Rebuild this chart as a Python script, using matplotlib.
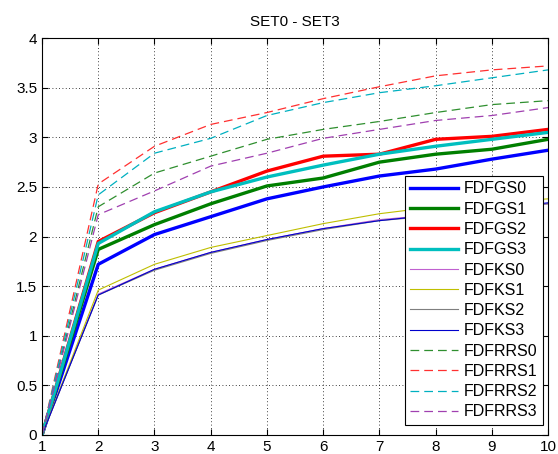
import matplotlib
matplotlib.use("Agg")
import matplotlib.pyplot as plt

plt.rcParams['font.family'] = ['Liberation Sans', 'DejaVu Sans']

x = [1, 2, 3, 4, 5, 6, 7, 8, 9, 10]

labels = ['FDFGS0', 'FDFGS1', 'FDFGS2', 'FDFGS3',
          'FDFKS0', 'FDFKS1', 'FDFKS2', 'FDFKS3',
          'FDFRRS0', 'FDFRRS1', 'FDFRRS2', 'FDFRRS3']

fdfgs0 = [0, 1.72, 2.02, 2.20, 2.38, 2.50, 2.61, 2.68, 2.78, 2.87]
fdfgs1 = [0, 1.87, 2.12, 2.33, 2.51, 2.59, 2.75, 2.83, 2.88, 2.98]
fdfgs2 = [0, 1.95, 2.24, 2.45, 2.66, 2.81, 2.83, 2.98, 3.01, 3.08]
fdfgs3 = [0, 1.93, 2.25, 2.45, 2.60, 2.72, 2.83, 2.91, 2.98, 3.05]
fdfks0 = [0, 1.42, 1.67, 1.84, 1.97, 2.08, 2.17, 2.22, 2.27, 2.33]
fdfks1 = [0, 1.46, 1.72, 1.89, 2.01, 2.13, 2.23, 2.30, 2.34, 2.38]
fdfks2 = [0, 1.41, 1.66, 1.83, 1.96, 2.07, 2.16, 2.21, 2.27, 2.33]
fdfks3 = [0, 1.41, 1.67, 1.84, 1.97, 2.08, 2.16, 2.22, 2.28, 2.34]
fdfrrs0 = [0, 2.30, 2.64, 2.81, 2.98, 3.08, 3.16, 3.25, 3.33, 3.37]
fdfrrs1 = [0, 2.53, 2.91, 3.13, 3.25, 3.39, 3.51, 3.62, 3.68, 3.72]
fdfrrs2 = [0, 2.42, 2.84, 2.99, 3.22, 3.35, 3.45, 3.52, 3.60, 3.68]
fdfrrs3 = [0, 2.22, 2.46, 2.71, 2.84, 2.99, 3.08, 3.17, 3.22, 3.30]

series = [fdfgs0, fdfgs1, fdfgs2, fdfgs3, fdfks0, fdfks1, fdfks2, fdfks3,
          fdfrrs0, fdfrrs1, fdfrrs2, fdfrrs3]
colors = ['#0000ff', '#007f00', '#ff0000', '#00bfbf',
          '#c060d0', '#bfbf00', '#7f7f7f', '#0000cc',
          '#2f8f2f', '#ff3030', '#00b0c0', '#a040b0']
styles = ['-'] * 8 + ['--'] * 4
widths = [2.4] * 4 + [0.8] * 4 + [0.9] * 4

fig = plt.figure(figsize=(5.58, 4.54), dpi=100)
ax = fig.add_axes([0.0753, 0.042, 0.907, 0.874])

for s, lab, c, ls, lw in zip(series, labels, colors, styles, widths):
    ax.plot(x, s, color=c, linestyle=ls, linewidth=lw, label=lab,
            dashes=(7, 4) if ls == '--' else (None, None))

ax.set_xlim(1, 10)
ax.set_ylim(0, 4)
ax.set_xticks(range(1, 11))
ax.set_yticks([0, 0.5, 1, 1.5, 2, 2.5, 3, 3.5, 4])
ax.set_yticklabels(['0', '0.5', '1', '1.5', '2', '2.5', '3', '3.5', '4'])
ax.grid(True, color='black', linestyle=(0, (1, 3)), linewidth=0.6)
ax.tick_params(direction='in', top=True, right=True, labelsize=11, length=4)
for sp in ax.spines.values():
    sp.set_linewidth(0.8)
ax.set_title('SET0 - SET3', fontsize=11, pad=9)

leg = ax.legend(loc='lower right', bbox_to_anchor=(0.99, 0.025), fontsize=11.5,
                fancybox=False, framealpha=1, edgecolor='black',
                borderpad=0.35, labelspacing=0.33, handlelength=3.0,
                handletextpad=0.35, borderaxespad=0)
leg.get_frame().set_linewidth(0.8)

fig.savefig('out.png', dpi=100)
